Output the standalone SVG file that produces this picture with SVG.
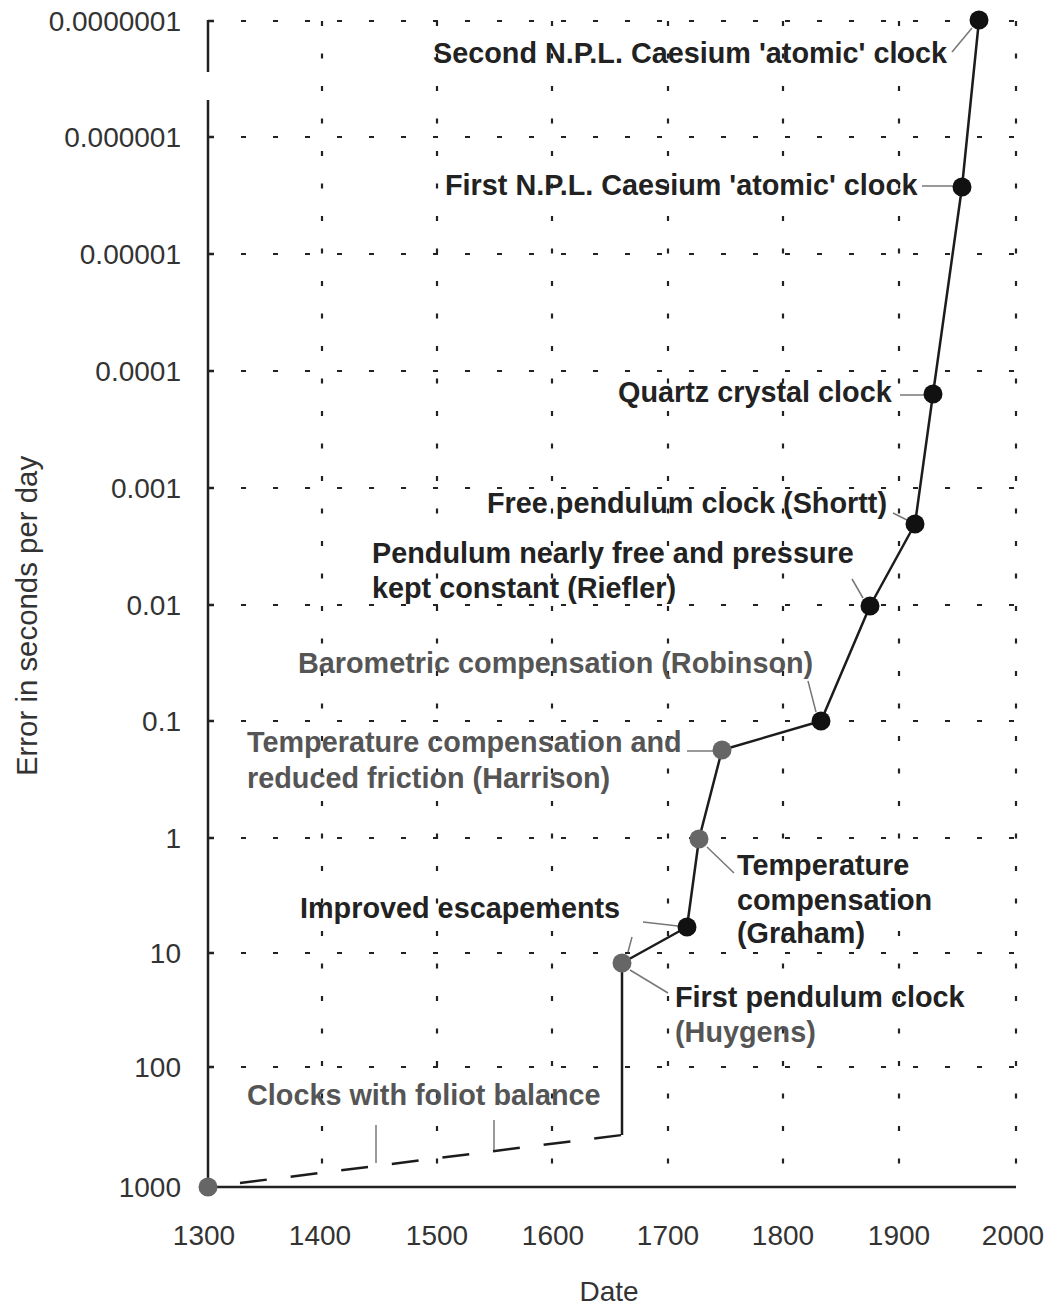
<svg xmlns="http://www.w3.org/2000/svg" width="1053" height="1307" viewBox="0 0 1053 1307">
  <style>
    .tick{font-family:"Liberation Sans",Arial,sans-serif;font-size:28px;fill:#333}
    .ylab{text-anchor:end}
    .xlab{text-anchor:middle}
    .title{font-size:29.4px}
    .note{font-family:"Liberation Sans",Arial,sans-serif;font-size:28.8px;font-weight:bold;fill:#222}
    .note.grey{fill:#555}
    .hgrid{stroke:#222;stroke-width:2.2;stroke-dasharray:5 27;fill:none}
    .vgrid{stroke:#222;stroke-width:2.2;stroke-dasharray:5 27.5;fill:none}
    .axis{stroke:#222;stroke-width:2.5;fill:none}
    .trend{stroke:#1c1c1c;stroke-width:2.5;fill:none;stroke-linejoin:round}
    .foliot{stroke:#1c1c1c;stroke-width:2.5;fill:none;stroke-dasharray:27 24}
    .leader{stroke:#777;stroke-width:1.5;fill:none}
    .dot{fill:#111}
    .dot.grey{fill:#666}
  </style>

  <!-- dotted grid -->
  <g id="grid">
    <path class="hgrid" d="M241,21H1016M241,137H1016M241,254H1016M241,371H1016M241,488H1016M241,605H1016M241,721H1016M241,838H1016M241,953H1016M241,1067H1016"/>
    <path class="vgrid" d="M322,21V1187M437,21V1187M552,21V1187M668,21V1187M783,21V1187M899,21V1187M1016,21V1187"/>
  </g>

  <!-- axes -->
  <g id="axes">
    <path class="axis" d="M208,20V72M208,100V1187H1016"/>
    <path class="axis" d="M208,21H214M208,137H214M208,254H214M208,371H214M208,488H214M208,605H214M208,721H214M208,838H214M208,953H214M208,1067H214"/>
    <g class="tick ylab">
      <text x="181" y="31">0.0000001</text>
      <text x="181" y="147">0.000001</text>
      <text x="181" y="264">0.00001</text>
      <text x="181" y="381">0.0001</text>
      <text x="181" y="498">0.001</text>
      <text x="181" y="615">0.01</text>
      <text x="181" y="731">0.1</text>
      <text x="181" y="848">1</text>
      <text x="181" y="963">10</text>
      <text x="181" y="1077">100</text>
      <text x="181" y="1197">1000</text>
    </g>
    <g class="tick xlab">
      <text x="204" y="1245">1300</text>
      <text x="320" y="1245">1400</text>
      <text x="437" y="1245">1500</text>
      <text x="553" y="1245">1600</text>
      <text x="668" y="1245">1700</text>
      <text x="783" y="1245">1800</text>
      <text x="899" y="1245">1900</text>
      <text x="1013" y="1245">2000</text>
    </g>
    <text class="tick xlab" x="609" y="1301">Date</text>
    <text class="tick xlab title" transform="translate(37,616) rotate(-90)">Error in seconds per day</text>
  </g>

  <!-- trend line and label leaders -->
  <g id="connectors">
    <path class="foliot" d="M240,1183L622,1135"/>
    <path class="trend" d="M622,1135L622,963L687,927L699,839L722,750L821,721L870,606L915,524L933,394L962,187L979,20"/>
    <path class="leader" d="M952,52L972,28"/>
    <path class="leader" d="M922,186H953"/>
    <path class="leader" d="M900,395H924"/>
    <path class="leader" d="M893,513L907,520"/>
    <path class="leader" d="M852,579L863,598"/>
    <path class="leader" d="M808,681L816,712"/>
    <path class="leader" d="M687,751H713"/>
    <path class="leader" d="M707,847L734,873"/>
    <path class="leader" d="M643,922L678,926"/>
    <path class="leader" d="M632,937L628,952"/>
    <path class="leader" d="M630,970L668,993"/>
    <path class="leader" d="M376,1125V1163"/>
    <path class="leader" d="M494,1120V1150"/>
  </g>

  <!-- milestones -->
  <g id="start-1300">
    <circle class="dot grey" cx="208" cy="1187" r="9.5"/>
  </g>
  <g id="foliot">
    <text class="note grey" x="247" y="1105">Clocks with foliot balance</text>
  </g>
  <g id="huygens">
    <circle class="dot grey" cx="622" cy="963" r="9.5"/>
    <text class="note" x="675" y="1007">First pendulum clock</text>
    <text class="note grey" x="675" y="1042">(Huygens)</text>
  </g>
  <g id="escapements">
    <circle class="dot" cx="687" cy="927" r="9.5"/>
    <text class="note" x="300" y="918">Improved escapements</text>
  </g>
  <g id="graham">
    <circle class="dot grey" cx="699" cy="839" r="9.5"/>
    <text class="note" x="737" y="875">Temperature</text>
    <text class="note" x="737" y="910">compensation</text>
    <text class="note" x="737" y="943">(Graham)</text>
  </g>
  <g id="harrison">
    <circle class="dot grey" cx="722" cy="750" r="9.5"/>
    <text class="note grey" x="247" y="752">Temperature compensation and</text>
    <text class="note grey" x="247" y="788">reduced friction (Harrison)</text>
  </g>
  <g id="robinson">
    <circle class="dot" cx="821" cy="721" r="9.5"/>
    <text class="note grey" x="298" y="673">Barometric compensation (Robinson)</text>
  </g>
  <g id="riefler">
    <circle class="dot" cx="870" cy="606" r="9.5"/>
    <text class="note" x="372" y="563">Pendulum nearly free and pressure</text>
    <text class="note" x="372" y="598">kept constant (Riefler)</text>
  </g>
  <g id="shortt">
    <circle class="dot" cx="915" cy="524" r="9.5"/>
    <text class="note" x="487" y="513">Free pendulum clock (Shortt)</text>
  </g>
  <g id="quartz">
    <circle class="dot" cx="933" cy="394" r="9.5"/>
    <text class="note" x="618" y="402">Quartz crystal clock</text>
  </g>
  <g id="npl-first">
    <circle class="dot" cx="962" cy="187" r="9.5"/>
    <text class="note" x="445" y="195">First N.P.L. Caesium 'atomic' clock</text>
  </g>
  <g id="npl-second">
    <circle class="dot" cx="979" cy="20" r="9.5"/>
    <text class="note" x="433" y="63">Second N.P.L. Caesium 'atomic' clock</text>
  </g>
</svg>
